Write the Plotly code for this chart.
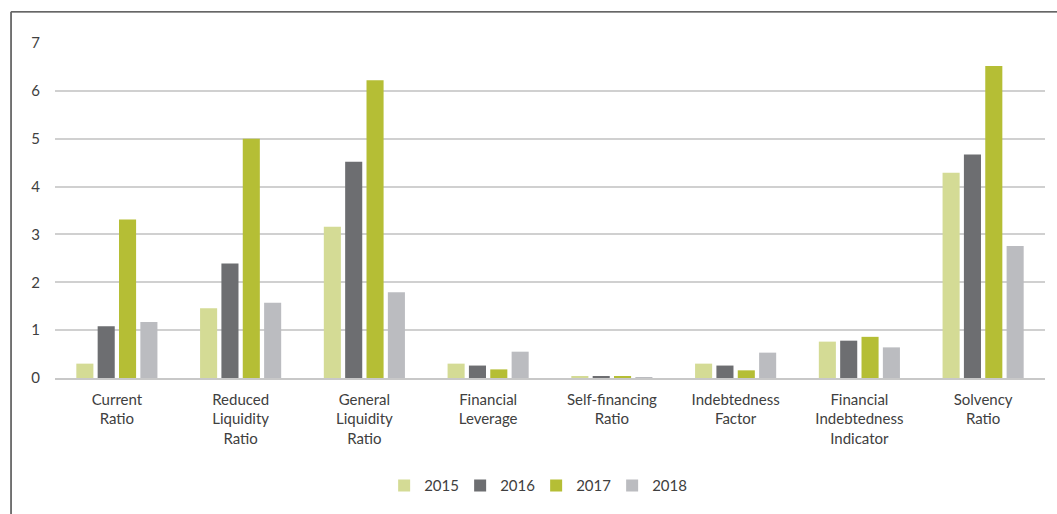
import plotly.graph_objects as go

categories = ["Current<br>Ratio", "Reduced<br>Liquidity<br>Ratio", "General<br>Liquidity<br>Ratio",
              "Financial<br>Leverage", "Self-financing<br>Ratio", "Indebtedness<br>Factor",
              "Financial<br>Indebtedness<br>Indicator", "Solvency<br>Ratio"]
years = ["2015", "2016", "2017", "2018"]
v2015 = [0.30, 1.46, 3.16, 0.30, 0.03, 0.30, 0.76, 4.29]
v2016 = [1.08, 2.39, 4.52, 0.26, 0.03, 0.26, 0.78, 4.67]
v2017 = [3.31, 5.00, 6.22, 0.18, 0.03, 0.16, 0.86, 6.52]
v2018 = [1.17, 1.57, 1.79, 0.55, 0.01, 0.53, 0.64, 2.76]
colors = ["#d4db95", "#6d6e71", "#b5be35", "#bbbcc0"]

fig = go.Figure()
for name, vals, c in zip(years, [v2015, v2016, v2017, v2018], colors):
    fig.add_trace(go.Bar(x=categories, y=vals, name=name, marker=dict(color=c, line=dict(width=0))))

font = dict(family="Lato, Open Sans, sans-serif", size=15, color="#404040")
fig.update_layout(
    width=1057, height=514,
    margin=dict(l=55, r=12, t=43, b=130),
    paper_bgcolor="white", plot_bgcolor="white",
    barmode="group", bargap=0.31, bargroupgap=0.2,
    font=font,
    showlegend=True,
    legend=dict(orientation="h", x=0.486, xanchor="center", y=-0.322, yanchor="middle",
                font=dict(family="Lato, Open Sans, sans-serif", size=15, color="#404040"),
                itemwidth=30, entrywidth=31, entrywidthmode="pixels", traceorder="normal"),
    xaxis=dict(showgrid=False, showline=True, linecolor="#c8c8c8", linewidth=1.5,
               ticks="", tickfont=font, ticklabelstandoff=7, tickangle=0),
    yaxis=dict(range=[0, 7], dtick=1, showgrid=True, gridcolor="#d0d0d0", gridwidth=1.5,
               zeroline=False, showline=False, ticks="", tickfont=font, ticklabelstandoff=14),
    shapes=[
        dict(type="line", xref="paper", yref="paper", x0=-0.0444, x1=1.1, y0=1.093, y1=1.093,
             line=dict(color="#333333", width=1.2)),
        dict(type="line", xref="paper", yref="paper", x0=-0.0444, x1=-0.0444, y0=1.093, y1=-0.5,
             line=dict(color="#666666", width=1.8)),
    ],
)
fig.write_html("out.html")
